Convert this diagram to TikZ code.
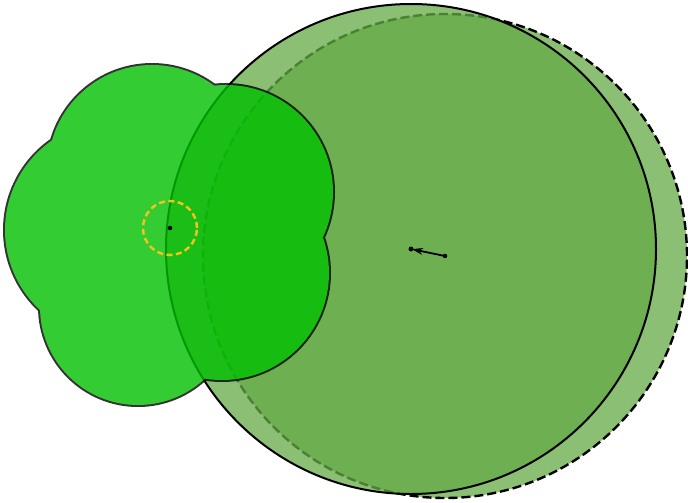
\documentclass[tikz,border=0pt]{standalone}
\usetikzlibrary{arrows.meta}
\definecolor{bigfill}{RGB}{100,170,70}
\definecolor{leaf}{RGB}{0,191,0}
\definecolor{ring}{RGB}{245,195,30}

\begin{document}
\begin{tikzpicture}[x=1pt,y=-1pt,>={Stealth[length=11pt,width=7pt]}]
\tikzset{
 big/.style={fill=bigfill,fill opacity=0.75,draw=black,line width=2pt},
 dot/.style={circle,fill=black,inner sep=0pt,minimum size=5pt},
 a/.style={->,line width=1.8pt,shorten >=1pt}
}
\useasboundingbox (0,0) rectangle (688,503);
\coordinate (cd) at (445,256);
\coordinate (cs) at (411,249);
\coordinate (cy) at (170,228);
% the two big discs
\draw[big,dash pattern=on 9pt off 4pt,line width=2.4pt] (cd) circle (242pt);
\draw[big] (cs) circle (245pt);
% the lobed shape
\begin{scope}[transparency group,opacity=0.8]
\foreach \x/\y/\r in {152/169/104,114/230/109,138/307/98,226/192/107,222/273/107}
 \draw[line width=4pt] (\x,\y) circle (\r pt);
\foreach \x/\y/\r in {152/169/104,114/230/109,138/307/98,226/192/107,222/273/107}
 \fill[leaf] (\x,\y) circle (\r pt);
\end{scope}
\draw[ring,line width=2.4pt,dash pattern=on 6pt off 3.5pt] (cy) circle (27pt);
\node[dot,minimum size=4.5pt] (py) at (cy) {};
% centres and shift
\draw[a] (cd) -- (cs);
\node[dot] (ps) at (cs) {};
\node[dot,minimum size=4.5pt] (pd) at (cd) {};
\end{tikzpicture}
\end{document}
